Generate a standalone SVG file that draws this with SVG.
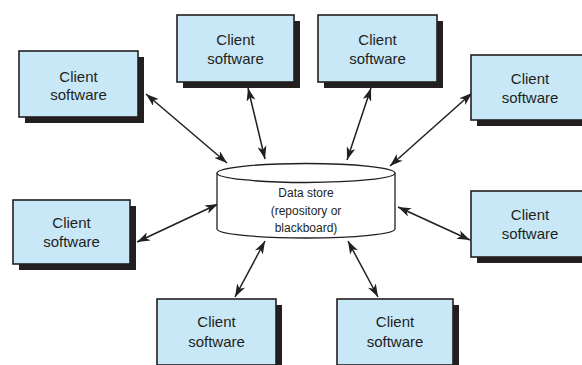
<svg xmlns="http://www.w3.org/2000/svg" width="582" height="365" viewBox="0 0 582 365">
<style>
.box{fill:#c8e8f8;stroke:#231f20;stroke-width:1.6}
.sh{fill:#231f20}
.t{font-family:"Liberation Sans",Arial,sans-serif;font-size:15px;fill:#231f20;text-anchor:middle}
.ts{font-family:"Liberation Sans",Arial,sans-serif;font-size:12px;fill:#231f20;text-anchor:middle}
.c{stroke:#231f20;stroke-width:1.5;fill:none;marker-start:url(#ah);marker-end:url(#ah)}
.cyl{fill:#fff;stroke:#231f20;stroke-width:1.3}
</style>
<defs>
<marker id="ah" viewBox="0 0 13 9" refX="13" refY="4.5" markerWidth="13" markerHeight="9" markerUnits="userSpaceOnUse" orient="auto-start-reverse">
<path d="M0,0 L13,4.5 L0,9 L3.5,4.5 Z" fill="#231f20"/>
</marker>
</defs>
<g id="connectors">
<line class="c" x1="146" y1="94" x2="227" y2="163"/>
<line class="c" x1="248" y1="88" x2="265" y2="159"/>
<line class="c" x1="371" y1="88" x2="347" y2="160"/>
<line class="c" x1="472" y1="93" x2="390" y2="166"/>
<line class="c" x1="137" y1="242" x2="218" y2="204"/>
<line class="c" x1="398" y1="207" x2="470" y2="240"/>
<line class="c" x1="265" y1="241" x2="235" y2="297"/>
<line class="c" x1="348" y1="241" x2="378" y2="297"/>
</g>
<g id="datastore">
<path class="cyl" d="M217,173 L217,229 A89,9 0 0 0 395,229 L395,173"/>
<ellipse class="cyl" cx="306" cy="173" rx="89" ry="9.5"/>
<text class="ts" x="306" y="197">Data store</text>
<text class="ts" x="306" y="215">(repository or</text>
<text class="ts" x="306" y="232">blackboard)</text>
</g>
<g id="client1">
<rect class="sh" x="25" y="57" width="119" height="66"/>
<rect class="box" x="19" y="51" width="119" height="66"/>
<text class="t" x="78.5" y="82">Client</text>
<text class="t" x="78.5" y="100">software</text>
</g>
<g id="client2">
<rect class="sh" x="183" y="21" width="117" height="67"/>
<rect class="box" x="177" y="15" width="117" height="67"/>
<text class="t" x="235.5" y="45">Client</text>
<text class="t" x="235.5" y="64">software</text>
</g>
<g id="client3">
<rect class="sh" x="324" y="21" width="119" height="67"/>
<rect class="box" x="318" y="15" width="119" height="67"/>
<text class="t" x="377.5" y="45">Client</text>
<text class="t" x="377.5" y="64">software</text>
</g>
<g id="client4">
<rect class="sh" x="477" y="61" width="118" height="65"/>
<rect class="box" x="471" y="55" width="118" height="65"/>
<text class="t" x="530" y="84">Client</text>
<text class="t" x="530" y="103">software</text>
</g>
<g id="client5">
<rect class="sh" x="19" y="206" width="117" height="64"/>
<rect class="box" x="13" y="200" width="117" height="64"/>
<text class="t" x="71.5" y="228">Client</text>
<text class="t" x="71.5" y="247">software</text>
</g>
<g id="client6">
<rect class="sh" x="477" y="197" width="118" height="66"/>
<rect class="box" x="471" y="191" width="118" height="66"/>
<text class="t" x="530" y="220">Client</text>
<text class="t" x="530" y="239">software</text>
</g>
<g id="client7">
<rect class="sh" x="163" y="305" width="119" height="66"/>
<rect class="box" x="157" y="299" width="119" height="66"/>
<text class="t" x="216.5" y="327">Client</text>
<text class="t" x="216.5" y="347">software</text>
</g>
<g id="client8">
<rect class="sh" x="343" y="305" width="116" height="66"/>
<rect class="box" x="337" y="299" width="116" height="66"/>
<text class="t" x="395" y="327">Client</text>
<text class="t" x="395" y="347">software</text>
</g>
</svg>
